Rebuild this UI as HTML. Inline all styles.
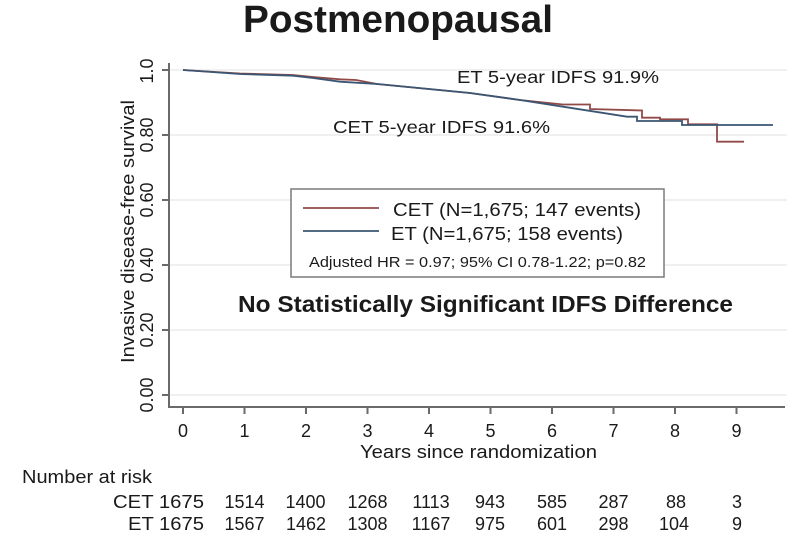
<!DOCTYPE html>
<html>
<head>
<meta charset="utf-8">
<style>
html,body{margin:0;padding:0;background:#fff;}
svg{display:block;}
text{font-family:"Liberation Sans",Arial,sans-serif;fill:#1a1a1a;}
</style>
</head>
<body>
<svg width="804" height="543" viewBox="0 0 804 543" xmlns="http://www.w3.org/2000/svg">
  <rect x="0" y="0" width="804" height="543" fill="#fff"/>
  <!-- Title -->
  <text x="243" y="32" font-size="38" font-weight="bold" textLength="310" lengthAdjust="spacingAndGlyphs" fill="#111">Postmenopausal</text>

  <!-- gridlines -->
  <g stroke="#ebebeb" stroke-width="1.5">
    <line x1="169" y1="70" x2="787" y2="70"/>
    <line x1="169" y1="135" x2="787" y2="135"/>
    <line x1="169" y1="200" x2="787" y2="200"/>
    <line x1="169" y1="265" x2="787" y2="265"/>
    <line x1="169" y1="330" x2="787" y2="330"/>
    <line x1="169" y1="395" x2="787" y2="395"/>
  </g>

  <!-- axes -->
  <g stroke="#6a6a6a" stroke-width="2">
    <line x1="169" y1="63" x2="169" y2="408"/>
    <line x1="168" y1="407" x2="785" y2="407"/>
    <!-- y ticks -->
    <line x1="162" y1="70" x2="169" y2="70"/>
    <line x1="162" y1="135" x2="169" y2="135"/>
    <line x1="162" y1="200" x2="169" y2="200"/>
    <line x1="162" y1="265" x2="169" y2="265"/>
    <line x1="162" y1="330" x2="169" y2="330"/>
    <line x1="162" y1="395" x2="169" y2="395"/>
    <!-- x ticks -->
    <line x1="183" y1="407" x2="183" y2="414"/>
    <line x1="244.5" y1="407" x2="244.5" y2="414"/>
    <line x1="306" y1="407" x2="306" y2="414"/>
    <line x1="367.5" y1="407" x2="367.5" y2="414"/>
    <line x1="429" y1="407" x2="429" y2="414"/>
    <line x1="490.5" y1="407" x2="490.5" y2="414"/>
    <line x1="552" y1="407" x2="552" y2="414"/>
    <line x1="613.5" y1="407" x2="613.5" y2="414"/>
    <line x1="675" y1="407" x2="675" y2="414"/>
    <line x1="736.5" y1="407" x2="736.5" y2="414"/>
  </g>

  <!-- y tick labels -->
  <g font-size="18" text-anchor="middle">
    <text transform="translate(153,71) rotate(-90)">1.0</text>
    <text transform="translate(153,135) rotate(-90)">0.80</text>
    <text transform="translate(153,200) rotate(-90)">0.60</text>
    <text transform="translate(153,265) rotate(-90)">0.40</text>
    <text transform="translate(153,330) rotate(-90)">0.20</text>
    <text transform="translate(153,395) rotate(-90)">0.00</text>
  </g>
  <text transform="translate(134,363) rotate(-90)" font-size="18" textLength="263" lengthAdjust="spacingAndGlyphs">Invasive disease-free survival</text>

  <!-- x tick labels -->
  <g font-size="18" text-anchor="middle">
    <text x="183" y="437">0</text>
    <text x="244.5" y="437">1</text>
    <text x="306" y="437">2</text>
    <text x="367.5" y="437">3</text>
    <text x="429" y="437">4</text>
    <text x="490.5" y="437">5</text>
    <text x="552" y="437">6</text>
    <text x="613.5" y="437">7</text>
    <text x="675" y="437">8</text>
    <text x="736.5" y="437">9</text>
  </g>
  <text x="360" y="458" font-size="18" textLength="237" lengthAdjust="spacingAndGlyphs">Years since randomization</text>

  <!-- curves -->
  <g fill="none" stroke-width="1.8" stroke-linejoin="miter">
    <polyline stroke="#924a48" points="183,70 240,73.5 293,75 313,77 340,79.3 356,80 377,84 470,93 520,100 563,104.5 590,104.5 590,109 642,110.5 642,117.7 660,117.7 660,119.3 688,119.3 688,124.3 717,124.3 717,141.7 744,141.7"/>
    <polyline stroke="#3b5673" points="183,70 240,74 293,75.7 313,78 340,81.7 377,84 470,93 520,100 563,106.7 627,116.7 637,116.7 637,121 682,121 682,125 773,125"/>
  </g>

  <!-- annotations -->
  <text x="457" y="83" font-size="17.5" textLength="202" lengthAdjust="spacingAndGlyphs">ET 5-year IDFS 91.9%</text>
  <text x="333" y="133" font-size="17.5" textLength="217" lengthAdjust="spacingAndGlyphs">CET 5-year IDFS 91.6%</text>

  <!-- legend -->
  <rect x="291" y="189" width="373" height="88" fill="#fff" stroke="#7a7a7a" stroke-width="1.5"/>
  <line x1="303" y1="208" x2="379" y2="208" stroke="#924a48" stroke-width="1.8"/>
  <line x1="303" y1="231" x2="379" y2="231" stroke="#3b5673" stroke-width="1.8"/>
  <text x="393" y="216" font-size="18" textLength="248" lengthAdjust="spacingAndGlyphs">CET (N=1,675; 147 events)</text>
  <text x="391" y="240" font-size="18" textLength="232" lengthAdjust="spacingAndGlyphs">ET (N=1,675; 158 events)</text>
  <text x="309" y="267" font-size="14.5" textLength="337" lengthAdjust="spacingAndGlyphs">Adjusted HR = 0.97; 95% CI 0.78-1.22; p=0.82</text>

  <text x="238" y="312" font-size="23.5" font-weight="bold" textLength="495" lengthAdjust="spacingAndGlyphs" fill="#111">No Statistically Significant IDFS Difference</text>

  <!-- number at risk -->
  <text x="22" y="483" font-size="18" textLength="130" lengthAdjust="spacingAndGlyphs">Number at risk</text>
  <g font-size="18">
    <text x="113" y="508" textLength="91" lengthAdjust="spacingAndGlyphs">CET 1675</text>
    <text x="128" y="530" textLength="76" lengthAdjust="spacingAndGlyphs">ET 1675</text>
  </g>
  <g font-size="18" text-anchor="middle">
    <text x="244.5" y="508">1514</text>
    <text x="305.5" y="508">1400</text>
    <text x="367.5" y="508">1268</text>
    <text x="431" y="508">1113</text>
    <text x="490" y="508">943</text>
    <text x="552" y="508">585</text>
    <text x="613.5" y="508">287</text>
    <text x="676" y="508">88</text>
    <text x="737" y="508">3</text>

    <text x="244.5" y="530">1567</text>
    <text x="306" y="530">1462</text>
    <text x="367.5" y="530">1308</text>
    <text x="431" y="530">1167</text>
    <text x="490" y="530">975</text>
    <text x="552" y="530">601</text>
    <text x="613.5" y="530">298</text>
    <text x="674" y="530">104</text>
    <text x="737" y="530">9</text>
  </g>
</svg>
</body>
</html>
